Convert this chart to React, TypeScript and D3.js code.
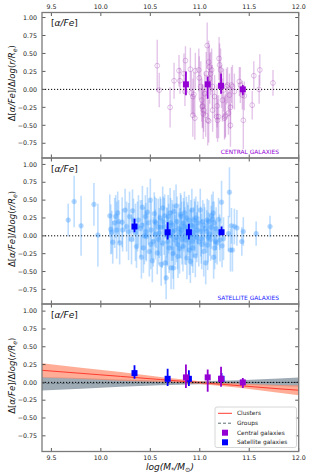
import { useEffect, useRef } from 'react';
import * as d3 from 'd3';

// [mass, value, error]
const centralPoints: number[][] = [
  [10.57, 0.33, 0.36], [10.59, -0.01, 0.24], [10.70, -0.25, 0.28], [10.74, 0.12, 0.25],
  [10.79, 0.26, 0.22], [10.80, 0.12, 0.18], [10.84, 0.22, 0.28], [10.855, 0.40, 0.2],
  [10.85, -0.03, 0.2], [10.905, 0.28, 0.3], [10.915, -0.05, 0.3], [10.93, -0.10, 0.25],
  [10.94, -0.07, 0.3], [10.93, -0.36, 0.3], [10.95, -0.40, 0.3], [10.955, 0.26, 0.25],
  [10.99, 0.27, 0.3], [10.995, 0.16, 0.3], [11.01, 0.04, 0.35], [11.02, -0.15, 0.3],
  [11.025, -0.24, 0.3], [11.03, -0.23, 0.3], [11.035, -0.34, 0.35], [11.04, -0.29, 0.3],
  [11.05, -0.06, 0.3], [11.06, -0.36, 0.3], [11.065, 0.22, 0.3], [11.075, 0.61, 0.32],
  [11.08, -0.43, 0.35], [11.09, 0.38, 0.3], [11.09, -0.44, 0.3], [11.097, 0.31, 0.3],
  [11.10, 0.15, 0.35], [11.11, 0.22, 0.3], [11.12, 0.27, 0.3], [11.127, 0.04, 0.3],
  [11.13, -0.29, 0.3], [11.15, -0.10, 0.3], [11.17, -0.38, 0.3], [11.175, -0.23, 0.3],
  [11.18, -0.43, 0.3], [11.19, -0.38, 0.3], [11.195, 0.43, 0.3], [11.20, 0.34, 0.3],
  [11.21, 0.27, 0.3], [11.22, 0.04, 0.3], [11.23, -0.15, 0.3], [11.24, -0.01, 0.3],
  [11.25, -0.40, 0.3], [11.255, -0.38, 0.3], [11.26, -0.36, 0.3], [11.27, 0.04, 0.25],
  [11.28, 0.06, 0.25], [11.29, -0.33, 0.3], [11.30, -0.08, 0.3], [11.31, -0.25, 0.3],
  [11.31, -0.50, 0.3], [11.32, 0.06, 0.25], [11.33, 0.04, 0.3], [11.35, -0.03, 0.25],
  [11.40, 0.11, 0.2], [11.41, 0.06, 0.25], [11.43, -0.08, 0.2], [11.45, -0.09, 0.2],
  [11.44, -0.43, 0.4], [11.53, -0.22, 0.2], [11.546, 0.19, 0.2], [11.60, 0.0, 0.2],
  [11.607, 0.27, 0.22], [11.74, 0.09, 0.18],
];

const satellitePoints: number[][] = [
  [9.67, 0.22, 0.23], [9.73, 0.48, 0.36], [9.80, 0.14, 0.42], [9.93, 0.44, 0.3],
  [9.97, 0.01, 0.44], [10.09, 0.28, 0.3], [10.10, 0.09, 0.35], [10.11, 0.05, 0.3],
  [10.12, -0.09, 0.3], [10.14, 0.18, 0.35], [10.15, 0.27, 0.3], [10.16, 0.08, 0.4],
  [10.17, 0.32, 0.3], [10.18, 0.20, 0.3], [10.19, -0.10, 0.3], [10.215, 0.19, 0.35],
  [10.22, 0.08, 0.3], [10.245, 0.36, 0.3], [10.26, 0.13, 0.35], [10.28, 0.06, 0.4],
  [10.29, 0.27, 0.35], [10.31, -0.05, 0.35], [10.32, 0.35, 0.3], [10.33, 0.22, 0.3],
  [10.35, 0.05, 0.4], [10.36, -0.15, 0.3], [10.37, 0.13, 0.35], [10.38, 0.22, 0.35],
  [10.40, 0.10, 0.4], [10.41, -0.30, 0.3], [10.42, 0.40, 0.3], [10.43, -0.17, 0.35],
  [10.44, 0.00, 0.4], [10.45, 0.27, 0.3], [10.46, -0.01, 0.35], [10.47, 0.33, 0.35],
  [10.48, 0.18, 0.3], [10.49, -0.22, 0.35], [10.50, 0.50, 0.3], [10.51, 0.08, 0.4],
  [10.52, -0.35, 0.3], [10.53, -0.08, 0.35], [10.54, 0.31, 0.3], [10.55, 0.02, 0.35],
  [10.56, 0.18, 0.35], [10.57, -0.24, 0.3], [10.58, 0.12, 0.4], [10.59, 0.04, 0.35],
  [10.60, 0.25, 0.3], [10.61, -0.40, 0.3], [10.62, -0.10, 0.35], [10.625, 0.39, 0.3],
  [10.63, 0.20, 0.35], [10.64, 0.13, 0.4], [10.65, -0.38, 0.3], [10.66, -0.59, 0.3],
  [10.665, 0.05, 0.35], [10.67, -0.01, 0.4], [10.68, 0.27, 0.3], [10.685, 0.10, 0.35],
  [10.69, -0.17, 0.35], [10.70, 0.32, 0.35], [10.71, -0.45, 0.3], [10.715, 0.00, 0.35],
  [10.72, 0.15, 0.35], [10.73, -0.25, 0.35], [10.735, -0.45, 0.3], [10.74, 0.34, 0.3],
  [10.745, 0.08, 0.35], [10.75, -0.06, 0.35], [10.76, 0.42, 0.3], [10.77, 0.20, 0.35],
  [10.775, -0.12, 0.35], [10.78, -0.29, 0.3], [10.79, 0.10, 0.35], [10.80, 0.04, 0.35],
  [10.805, 0.30, 0.3], [10.81, 0.27, 0.3], [10.82, -0.05, 0.35], [10.83, -0.15, 0.35],
  [10.835, 0.18, 0.35], [10.84, 0.13, 0.35], [10.85, 0.00, 0.4], [10.86, -0.06, 0.35],
  [10.865, 0.25, 0.3], [10.87, -0.31, 0.3], [10.88, 0.08, 0.35], [10.89, 0.22, 0.35],
  [10.895, -0.20, 0.35], [10.90, 0.01, 0.35], [10.905, -0.36, 0.3], [10.91, 0.15, 0.35],
  [10.92, 0.36, 0.3], [10.925, -0.08, 0.35], [10.93, -0.17, 0.35], [10.94, 0.05, 0.35],
  [10.95, 0.13, 0.35], [10.955, -0.28, 0.3], [10.96, 0.25, 0.3], [10.97, -0.02, 0.35],
  [10.98, 0.18, 0.3], [10.99, -0.08, 0.35], [11.005, 0.36, 0.3], [11.01, 0.06, 0.35],
  [11.02, -0.12, 0.35], [11.03, 0.20, 0.3], [11.04, -0.22, 0.35], [11.05, 0.10, 0.3],
  [11.06, -0.38, 0.3], [11.07, 0.06, 0.3], [11.075, 0.22, 0.3], [11.08, -0.13, 0.35],
  [11.09, 0.20, 0.3], [11.10, 0.02, 0.3], [11.11, -0.05, 0.3], [11.12, 0.28, 0.3],
  [11.13, 0.23, 0.25], [11.135, 0.32, 0.3], [11.14, -0.30, 0.3], [11.145, 0.18, 0.3],
  [11.15, -0.17, 0.3], [11.16, -0.08, 0.3], [11.175, -0.10, 0.3], [11.19, 0.23, 0.3],
  [11.20, 0.05, 0.25], [11.22, 0.47, 0.3], [11.225, -0.14, 0.3], [11.24, -0.04, 0.3],
  [11.29, 0.03, 0.25], [11.30, 0.61, 0.35], [11.31, -0.20, 0.3], [11.32, 0.14, 0.25],
  [11.33, -0.20, 0.3], [11.35, 0.13, 0.25], [11.375, 0.11, 0.25], [11.425, -0.08, 0.2],
  [11.44, 0.06, 0.2], [11.57, 0.03, 0.17], [11.71, 0.13, 0.15],
  // extra points in the dense core
  [10.415, 0.15, 0.35], [10.455, 0.06, 0.4], [10.505, -0.12, 0.35], [10.545, 0.20, 0.35],
  [10.585, -0.05, 0.35], [10.605, 0.12, 0.4], [10.645, 0.28, 0.3], [10.675, -0.08, 0.35],
  [10.705, 0.18, 0.35], [10.725, 0.05, 0.4], [10.765, -0.02, 0.35], [10.795, -0.18, 0.35],
  [10.815, 0.08, 0.4], [10.845, 0.32, 0.3], [10.875, 0.12, 0.35], [10.915, -0.02, 0.4],
  [10.945, 0.22, 0.3], [10.975, 0.08, 0.35], [11.015, -0.04, 0.35], [11.045, 0.15, 0.3],
  [11.085, -0.02, 0.35], [11.115, 0.12, 0.3], [11.165, 0.10, 0.3], [11.205, -0.06, 0.3],
];

// binned medians: [mass, value, errLow, errHigh]
const centralBins: number[][] = [
  [10.86, 0.07, 0.15, 0.18], [11.08, 0.07, 0.20, 0.11], [11.215, 0.05, 0.11, 0.17], [11.435, 0.0, 0.08, 0.06],
];
const satelliteBins: number[][] = [
  [10.34, 0.13, 0.08, 0.11], [10.675, 0.05, 0.10, 0.14], [10.89, 0.05, 0.10, 0.12], [11.22, 0.05, 0.04, 0.08],
];

// fits in the bottom panel
const fitX = [9.4, 9.8, 10.2, 10.6, 11.0, 11.4, 11.8, 12.0];
const clustersLine = [0.17, 0.127, 0.084, 0.04, -0.003, -0.046, -0.09, -0.11];
const clustersLow = [0.07, 0.047, 0.024, 0.005, -0.023, -0.076, -0.145, -0.18];
const clustersHigh = [0.27, 0.207, 0.144, 0.075, 0.017, -0.016, -0.035, -0.04];
const groupsLine = [-0.015, -0.013, -0.011, -0.008, -0.006, -0.004, -0.002, 0.0];
const groupsLow = [-0.115, -0.09, -0.062, -0.04, -0.025, -0.03, -0.05, -0.06];
const groupsHigh = [0.075, 0.06, 0.042, 0.027, 0.016, 0.03, 0.055, 0.068];

const xTicks = [9.5, 10.0, 10.5, 11.0, 11.5, 12.0];
const yTicks = [1.0, 0.75, 0.5, 0.25, 0.0, -0.25, -0.5, -0.75];
const legendLabels = ['Clusters', 'Groups', 'Central galaxies', 'Satellite galaxies'];

const W = 314;
const H = 474;
const font = 'DejaVu Sans, sans-serif';

const App = () => {
  const ref = useRef<SVGSVGElement>(null);

  useEffect(() => {
    const svg = d3.select(ref.current);
    svg.selectAll('*').remove();

    const left = 42;
    const right = 298.7;
    const x = d3.scaleLinear().domain([9.405, 12.0]).range([left, right]);

    const panels = [
      { top: 12.5, bottom: 158, dom: [-0.955, 1.07] },
      { top: 158, bottom: 304, dom: [-0.955, 1.09] },
      { top: 304, bottom: 451.5, dom: [-0.97, 1.1] },
    ];
    const fmt = (v: number) => d3.format('.2f')(v).replace('-', '\u2212');

    const defs = svg.append('defs');

    panels.forEach((p, i) => {
      const y = d3.scaleLinear().domain(p.dom).range([p.bottom, p.top]);
      defs.append('clipPath').attr('id', 'clip' + i)
        .append('rect').attr('x', left).attr('y', p.top).attr('width', right - left).attr('height', p.bottom - p.top);
      const g = svg.append('g').attr('clip-path', 'url(#clip' + i + ')');

      if (i === 2) {
        const area = (lo: number[], hi: number[]) => d3.area<number>()
          .x((d) => x(d)).y0((_d, k) => y(lo[k])).y1((_d, k) => y(hi[k]))(fitX);
        const line = (vals: number[]) => d3.line<number>().x((d) => x(d)).y((_d, k) => y(vals[k]))(fitX);
        g.append('path').attr('d', area(groupsLow, groupsHigh)).attr('fill', '#7d8f9c').attr('opacity', 0.75);
        g.append('path').attr('d', area(clustersLow, clustersHigh)).attr('fill', '#ff8a6a').attr('opacity', 0.7);
        g.append('path').attr('d', line(clustersLine)).attr('fill', 'none').attr('stroke', '#ff3b2f').attr('stroke-width', 1);
        g.append('path').attr('d', line(groupsLine)).attr('fill', 'none').attr('stroke', '#5a6a72')
          .attr('stroke-width', 1).attr('stroke-dasharray', '3,2');
      }

      // zero line
      g.append('line').attr('x1', left).attr('x2', right).attr('y1', y(0)).attr('y2', y(0))
        .attr('stroke', '#000').attr('stroke-width', 1).attr('stroke-dasharray', '1.2,1.8');

      if (i === 0) {
        g.selectAll('line.eb').data(centralPoints).enter().append('line')
          .attr('x1', (d) => x(d[0])).attr('x2', (d) => x(d[0]))
          .attr('y1', (d) => y(d[1] - d[2])).attr('y2', (d) => y(d[1] + d[2]))
          .attr('stroke', '#b45cc4').attr('stroke-width', 1.4).attr('opacity', 0.35);
        g.selectAll('circle.pt').data(centralPoints).enter().append('circle')
          .attr('cx', (d) => x(d[0])).attr('cy', (d) => y(d[1])).attr('r', 2.4)
          .attr('fill', 'none').attr('stroke', '#a040b4').attr('stroke-width', 0.8).attr('opacity', 0.4);
      }
      if (i === 1) {
        g.selectAll('line.eb').data(satellitePoints).enter().append('line')
          .attr('x1', (d) => x(d[0])).attr('x2', (d) => x(d[0]))
          .attr('y1', (d) => y(d[1] - d[2])).attr('y2', (d) => y(d[1] + d[2]))
          .attr('stroke', '#3f9dff').attr('stroke-width', 1.6).attr('opacity', 0.33);
        g.selectAll('circle.pt').data(satellitePoints).enter().append('circle')
          .attr('cx', (d) => x(d[0])).attr('cy', (d) => y(d[1])).attr('r', 2.4)
          .attr('fill', '#3797ff').attr('stroke', '#3797ff').attr('stroke-width', 0.5).attr('opacity', 0.38);
      }

      const bins: [number[][], string][] = [];
      if (i === 0 || i === 2) bins.push([centralBins, '#9400d3']);
      if (i === 1 || i === 2) bins.push([satelliteBins, '#0000ff']);
      if (i === 2) bins.reverse();
      bins.forEach(([data, color]) => {
        g.selectAll(null).data(data).enter().append('line')
          .attr('x1', (d) => x(d[0])).attr('x2', (d) => x(d[0]))
          .attr('y1', (d) => y(d[1] - d[2])).attr('y2', (d) => y(d[1] + d[3]))
          .attr('stroke', color).attr('stroke-width', 1.8);
        g.selectAll(null).data(data).enter().append('rect')
          .attr('x', (d) => x(d[0]) - 3).attr('y', (d) => y(d[1]) - 3)
          .attr('width', 6).attr('height', 6).attr('fill', color);
      });

      // ticks (inward, all sides)
      const tk = svg.append('g').attr('stroke', '#333').attr('stroke-width', 0.8);
      xTicks.forEach((t) => {
        tk.append('line').attr('x1', x(t)).attr('x2', x(t)).attr('y1', p.top).attr('y2', p.top + 3.5);
        tk.append('line').attr('x1', x(t)).attr('x2', x(t)).attr('y1', p.bottom).attr('y2', p.bottom - 3.5);
      });
      yTicks.forEach((t) => {
        tk.append('line').attr('x1', left).attr('x2', left + 3.5).attr('y1', y(t)).attr('y2', y(t));
        tk.append('line').attr('x1', right).attr('x2', right - 3.5).attr('y1', y(t)).attr('y2', y(t));
        svg.append('text').attr('x', 37).attr('y', y(t)).attr('dy', '0.35em').attr('text-anchor', 'end')
          .attr('font-family', font).attr('font-size', 6.3).attr('fill', '#222').text(fmt(t));
      });

      // frame
      svg.append('rect').attr('x', left).attr('y', p.top).attr('width', right - left).attr('height', p.bottom - p.top)
        .attr('fill', 'none').attr('stroke', '#7a7a7a').attr('stroke-width', 1.3);

      // panel title
      const title = svg.append('text').attr('x', 51).attr('y', p.top + 13.5)
        .attr('font-family', font).attr('font-size', 9).attr('fill', '#111');
      title.append('tspan').text('[');
      title.append('tspan').attr('font-style', 'italic').text('α/Fe');
      title.append('tspan').text(']');

      // y label
      const yl = svg.append('text')
        .attr('transform', `translate(14.5,${(p.top + p.bottom) / 2 - 2}) rotate(-90)`)
        .attr('text-anchor', 'middle').attr('font-family', font).attr('font-size', 8.6).attr('fill', '#111');
      yl.append('tspan').text('Δ[');
      yl.append('tspan').attr('font-style', 'italic').text('α/Fe');
      yl.append('tspan').text(']/Δ');
      yl.append('tspan').attr('font-style', 'italic').text('log');
      yl.append('tspan').text('(');
      yl.append('tspan').attr('font-style', 'italic').text('r/R');
      yl.append('tspan').attr('font-style', 'italic').attr('font-size', 6.2).attr('dy', 2).text('e');
      yl.append('tspan').attr('dy', -2).text(')');
    });

    // x tick labels
    xTicks.forEach((t) => {
      svg.append('text').attr('x', x(t)).attr('y', 8.5).attr('text-anchor', 'middle')
        .attr('font-family', font).attr('font-size', 6.3).attr('fill', '#222').text(t.toFixed(1));
      svg.append('text').attr('x', x(t)).attr('y', 459.8).attr('text-anchor', 'middle')
        .attr('font-family', font).attr('font-size', 6.3).attr('fill', '#222').text(t.toFixed(1));
    });

    // x label
    const xl = svg.append('text').attr('x', 170).attr('y', 470).attr('text-anchor', 'middle')
      .attr('font-family', font).attr('font-size', 9).attr('font-style', 'italic').attr('fill', '#111');
    xl.append('tspan').text('log(M');
    xl.append('tspan').attr('font-size', 6.5).attr('dy', 1.5).text('*');
    xl.append('tspan').attr('dy', -1.5).text('/M');
    xl.append('tspan').attr('font-size', 6.5).attr('dy', 1.5).attr('font-style', 'normal').text('⊙');
    xl.append('tspan').attr('dy', -1.5).text(')');

    // panel annotations
    svg.append('text').attr('x', 279).attr('y', 153.5).attr('text-anchor', 'end')
      .attr('font-family', font).attr('font-size', 5.9).attr('fill', '#9400d3').text('CENTRAL GALAXIES');
    svg.append('text').attr('x', 279).attr('y', 299.5).attr('text-anchor', 'end')
      .attr('font-family', font).attr('font-size', 5.9).attr('fill', '#1a1aff').text('SATELLITE GALAXIES');

    // legend
    const lg = svg.append('g');
    lg.append('rect').attr('x', 215).attr('y', 407).attr('width', 81.5).attr('height', 40.5).attr('rx', 2)
      .attr('fill', '#fff').attr('fill-opacity', 0.85).attr('stroke', '#ccc').attr('stroke-width', 0.8);
    const rowY = [413.3, 423.2, 432.7, 442.3];
    lg.append('line').attr('x1', 218).attr('x2', 232).attr('y1', rowY[0]).attr('y2', rowY[0])
      .attr('stroke', '#ff3b2f').attr('stroke-width', 1);
    lg.append('line').attr('x1', 218).attr('x2', 232).attr('y1', rowY[1]).attr('y2', rowY[1])
      .attr('stroke', '#5a6a72').attr('stroke-width', 1).attr('stroke-dasharray', '3,2');
    lg.append('rect').attr('x', 222).attr('y', rowY[2] - 3).attr('width', 6).attr('height', 6).attr('fill', '#9400d3');
    lg.append('rect').attr('x', 222).attr('y', rowY[3] - 3).attr('width', 6).attr('height', 6).attr('fill', '#0000ff');
    legendLabels.forEach((l, k) => {
      lg.append('text').attr('x', 237).attr('y', rowY[k]).attr('dy', '0.35em')
        .attr('font-family', font).attr('font-size', 5.9).attr('fill', '#222').text(l);
    });
  }, []);

  return (
    <svg ref={ref} width={W} height={H} style={{ position: 'absolute', left: 0, top: 0, background: '#fff' }} />
  );
};

export default App;
